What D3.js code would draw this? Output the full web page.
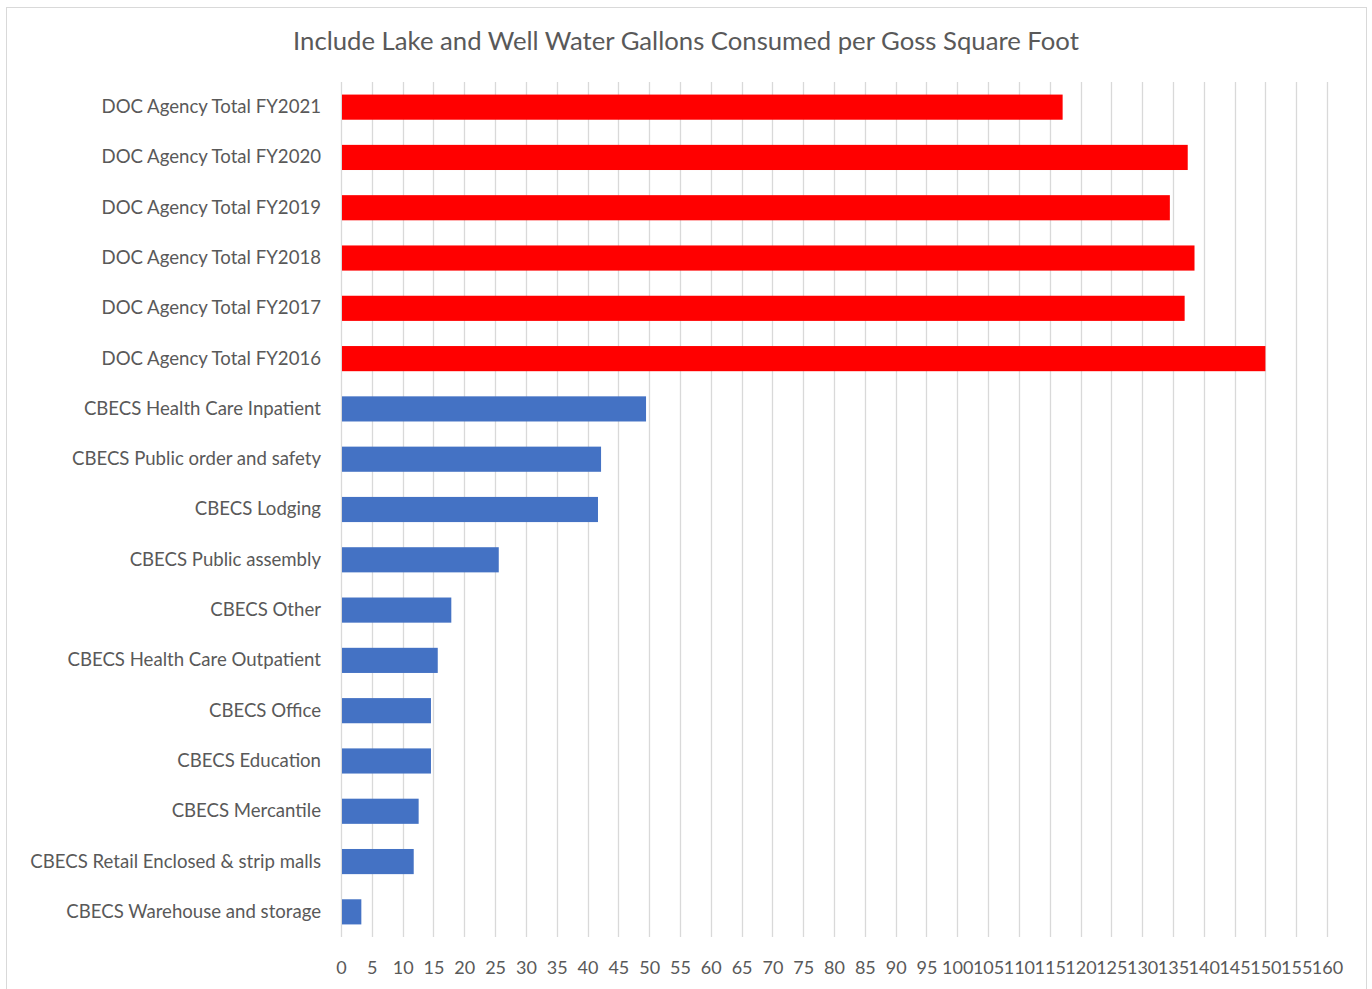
<!DOCTYPE html>
<html>
<head>
<meta charset="utf-8">
<script src="https://cdn.jsdelivr.net/npm/d3@7"></script>
<style>
  html, body { margin: 0; padding: 0; background: #fff; }
  svg { display: block; }
  text { font-family: Lato, "Open Sans", sans-serif; fill: #595959; }
</style>
</head>
<body>
<svg id="chart" width="1372" height="989"></svg>
<script>
const title = "Include Lake and Well Water Gallons Consumed per Goss Square Foot";
const categories = [
  "DOC Agency Total FY2021",
  "DOC Agency Total FY2020",
  "DOC Agency Total FY2019",
  "DOC Agency Total FY2018",
  "DOC Agency Total FY2017",
  "DOC Agency Total FY2016",
  "CBECS Health Care Inpatient",
  "CBECS Public order and safety",
  "CBECS Lodging",
  "CBECS Public assembly",
  "CBECS Other",
  "CBECS Health Care Outpatient",
  "CBECS Office",
  "CBECS Education",
  "CBECS Mercantile",
  "CBECS Retail Enclosed & strip malls",
  "CBECS Warehouse and storage"
];
const values = [117.1, 137.4, 134.5, 138.5, 136.9, 150.0, 49.5, 42.2, 41.7, 25.6, 17.9, 15.7, 14.6, 14.6, 12.6, 11.8, 3.3];
const groups = ["DOC","DOC","DOC","DOC","DOC","DOC","CBECS","CBECS","CBECS","CBECS","CBECS","CBECS","CBECS","CBECS","CBECS","CBECS","CBECS"];
const tickValues = d3.range(0, 161, 5);

const svg = d3.select("#chart");
const m = { left: 341, right: 1327, top: 82, bottom: 937 };

// chart border
svg.append("rect").attr("x", 6.5).attr("y", 7.5).attr("width", 1360).attr("height", 990)
  .attr("fill", "#fff").attr("stroke", "#d9d9d9").attr("stroke-width", 1);

const x = d3.scaleLinear().domain([0, 160]).range([m.left, m.right]);
const y = d3.scaleBand().domain(categories).range([m.top, m.bottom]).paddingInner(0.5).paddingOuter(0.25);
const color = d3.scaleOrdinal().domain(["DOC", "CBECS"]).range(["#FF0000", "#4472C4"]);

// gridlines
svg.append("g").selectAll("line").data(tickValues).join("line")
  .attr("x1", d => Math.round(x(d)) + 0.5).attr("x2", d => Math.round(x(d)) + 0.5)
  .attr("y1", m.top).attr("y2", m.bottom)
  .attr("stroke", "#d9d9d9").attr("stroke-width", 1.3);

// bars
svg.append("g").selectAll("rect").data(categories).join("rect")
  .attr("x", x(0) + 1)
  .attr("y", d => y(d))
  .attr("width", (d, i) => x(values[i]) - x(0) - 1)
  .attr("height", y.bandwidth())
  .attr("fill", (d, i) => color(groups[i]));

// x axis
const xAxis = d3.axisBottom(x).tickValues(tickValues).tickSize(0).tickPadding(0);
const gx = svg.append("g").attr("transform", `translate(0,${m.bottom + 24})`).call(xAxis);
gx.select(".domain").remove();
gx.selectAll("text").attr("font-size", "18px").style("font-family", "Lato, 'Open Sans', sans-serif").attr("fill", "#595959");

// y axis
const yAxis = d3.axisLeft(y).tickSize(0).tickPadding(0);
const gy = svg.append("g").attr("transform", `translate(${m.left - 20},0)`).call(yAxis);
gy.select(".domain").remove();
gy.selectAll("text").attr("font-size", "18.6px").style("font-family", "Lato, 'Open Sans', sans-serif").attr("fill", "#595959");

// title
svg.append("text").attr("x", 686).attr("y", 50).attr("text-anchor", "middle")
  .attr("font-size", "25.7px").text(title);
</script>
</body>
</html>
